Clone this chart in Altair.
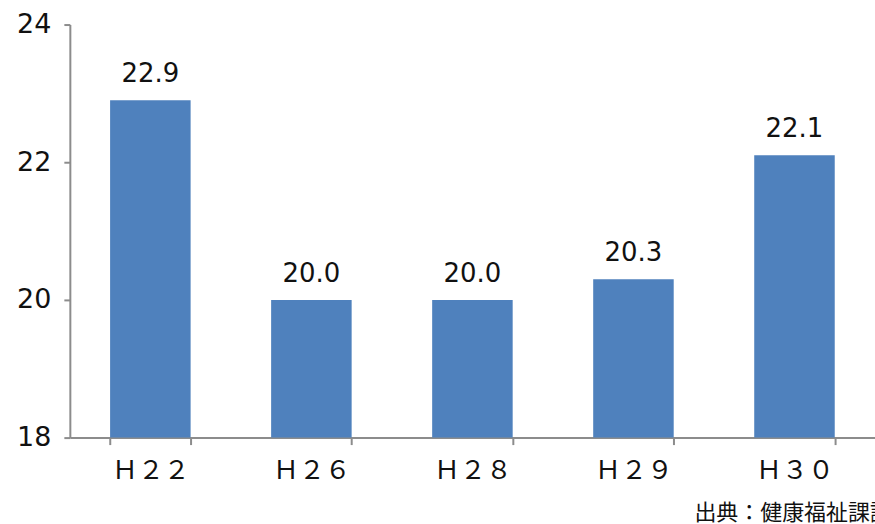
import altair as alt
import pandas as pd

# 年度別の値
years = ["Ｈ２２", "Ｈ２６", "Ｈ２８", "Ｈ２９", "Ｈ３０"]
values = [22.9, 20.0, 20.0, 20.3, 22.1]
y_ticks = [18, 20, 22, 24]
source_note = "出典：健康福祉課調べ"

df = pd.DataFrame({"year": years, "value": values})
df["label"] = [f"{v:.1f}" for v in values]

CJK_FONT = "Noto Sans CJK JP"
NUM_FONT = "DejaVu Sans"
AXIS_GRAY = "#8c8c8c"

base = alt.Chart(df).encode(
    x=alt.X(
        "year:N",
        sort=years,
        scale=alt.Scale(paddingInner=0.5, paddingOuter=0.25),
        axis=alt.Axis(
            title=None,
            labelAngle=0,
            labelFont=CJK_FONT,
            labelFontSize=26,
            labelColor="#111111",
            labelPadding=13,
            tickBand="extent",
            tickSize=7,
            tickColor=AXIS_GRAY,
            tickWidth=2,
            domainColor=AXIS_GRAY,
            domainWidth=2,
        ),
    ),
    y=alt.Y(
        "value:Q",
        scale=alt.Scale(domain=[18, 24], nice=False, zero=False, clamp=True),
        axis=alt.Axis(
            title=None,
            values=y_ticks,
            grid=False,
            labelFont=NUM_FONT,
            labelFontSize=27,
            labelColor="#111111",
            labelPadding=13,
            tickSize=6,
            tickColor=AXIS_GRAY,
            tickWidth=2,
            domainColor=AXIS_GRAY,
            domainWidth=2,
        ),
    ),
)

bars = base.mark_bar(color="#4F81BD")

labels = base.mark_text(
    font=NUM_FONT, fontSize=26, color="#111111", baseline="alphabetic", dy=-18
).encode(text="label:N")

note = alt.Chart(pd.DataFrame({"t": [source_note]})).mark_text(
    font=CJK_FONT, fontSize=22, color="#111111", align="left", baseline="middle"
).encode(text="t:N", x=alt.value(626), y=alt.value(490))

chart = (
    alt.layer(bars, labels, note)
    .properties(
        width=807,
        height=414,
        background="white",
        autosize=alt.AutoSizeParams(type="none"),
        padding={"left": 70, "top": 24, "right": 0, "bottom": 86},
    )
    .configure_view(stroke=None)
)

chart.save("out.html", embed_options={"renderer": "svg", "actions": False})
